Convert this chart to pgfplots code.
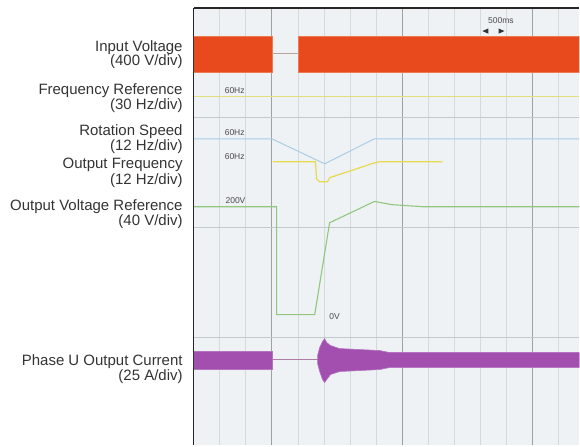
\documentclass[border=0pt]{standalone}
\usepackage{pgfplots}
\pgfplotsset{compat=1.18}
\usepackage{fontspec}
\setmainfont{Liberation Sans}

\definecolor{scopebg}{HTML}{EEF2F4}
\definecolor{gridmajor}{HTML}{9AA3A6}
\definecolor{gridminor}{HTML}{D3DADD}
\definecolor{gridhoriz}{HTML}{C3CACD}
\definecolor{vinput}{HTML}{E8491D}
\definecolor{vinputedge}{HTML}{EE7A52}
\definecolor{freqref}{HTML}{E2E07E}
\definecolor{speed}{HTML}{A9CDE6}
\definecolor{freqout}{HTML}{E6DA4E}
\definecolor{vref}{HTML}{93C67E}
\definecolor{iphase}{HTML}{A24FB0}
\definecolor{gapline}{HTML}{B9A29A}
\definecolor{labeltext}{HTML}{333333}
\definecolor{smalltext}{HTML}{4A4A4A}

\newcommand{\chlabel}{\fontsize{15}{15}\selectfont}
\newcommand{\tracelabel}{\fontsize{8.5}{9}\selectfont}

\begin{document}
\begin{tikzpicture}
% page frame
\path (0pt,0pt) rectangle (580pt,-446pt);

% channel names, right-aligned against the trace area
\begin{scope}[every node/.style={anchor=base east, inner sep=0pt, text=labeltext, font=\chlabel}]
\node at (183pt,-51.7pt) {Input Voltage};
\node at (183pt,-65.9pt) {(400 V/div)};
\node at (183pt,-94.3pt) {Frequency Reference};
\node at (183pt,-109.3pt) {(30 Hz/div)};
\node at (183pt,-135.7pt) {Rotation Speed};
\node at (183pt,-151pt) {(12 Hz/div)};
\node at (183pt,-169pt) {Output Frequency};
\node at (183pt,-184.3pt) {(12 Hz/div)};
\node at (183pt,-211pt) {Output Voltage Reference};
\node at (183pt,-225.7pt) {(40 V/div)};
\node at (183pt,-366pt) {Phase U Output Current};
\node at (183pt,-381pt) {(25 A/div)};
\end{scope}

\begin{axis}[
  set layers,
  at={(194pt,-8pt)}, anchor=north west,
  width=386pt, height=438pt, scale only axis,
  xmin=0, xmax=1479, ymin=0.018, ymax=4,
  axis x line*=top, axis y line*=left,
  axis line style={draw=black!85, line width=1.4pt},
  axis background/.style={fill=scopebg},
  xtick={300,800,1300},
  minor xtick={100,200,400,500,600,700,900,1000,1100,1200,1400},
  ytick={1,2,3},
  xticklabels={}, yticklabels={},
  tick label style={overlay},
  major tick length=0pt, minor tick length=0pt,
  xmajorgrids, xminorgrids, ymajorgrids,
  x grid style={draw=gridmajor, line width=1pt},
  minor x grid style={draw=gridminor, line width=1pt},
  y grid style={draw=gridhoriz, line width=0.9pt},
]

% input voltage: supply present, momentary loss, supply restored
\addplot[fill=vinput, draw=vinputedge, line width=0.8pt]
  coordinates {(0,3.745) (300,3.745) (300,3.418) (0,3.418)} --cycle;
\addplot[fill=vinput, draw=vinputedge, line width=0.8pt]
  coordinates {(402,3.745) (1479,3.745) (1479,3.418) (402,3.418)} --cycle;
\addplot[gapline, line width=0.8pt] coordinates {(300,3.591) (402,3.591)};

% frequency reference
\addplot[freqref, line width=0.9pt] coordinates {(0,3.191) (1479,3.191)};

% rotation speed
\addplot[speed, line width=1pt] coordinates {
  (0,2.809) (300,2.809) (502,2.582) (693,2.809) (1479,2.809)};

% output frequency
\addplot[freqout, line width=1.2pt] coordinates {
  (303,2.600) (467,2.600) (471,2.445) (483,2.418) (513,2.418)
  (521,2.455) (693,2.590) (713,2.600) (954,2.600)};

% output voltage reference
\addplot[vref, line width=1.1pt] coordinates {
  (0,2.191) (318,2.191) (318,1.209) (464,1.209) (521,2.045)
  (693,2.239) (760,2.210) (880,2.191) (1479,2.191)};

% phase U output current
\addplot[fill=iphase, draw=iphase!80!white, line width=0.6pt]
  coordinates {(0,0.873) (300,0.873) (300,0.709) (0,0.709)} --cycle;
\addplot[iphase!45!gapline, line width=0.8pt] coordinates {(300,0.800) (475,0.800)};
\addplot[fill=iphase, draw=iphase!80!white, line width=0.6pt] coordinates {
  (475,0.836) (483,0.909) (494,0.964) (502,0.991) (510,0.955) (525,0.927)
  (559,0.900) (636,0.891) (713,0.882) (751,0.864) (1479,0.864)
  (1479,0.727) (751,0.727) (713,0.709) (559,0.691) (525,0.664)
  (510,0.618) (502,0.591) (494,0.618) (483,0.691) (475,0.764)} --cycle;

% trace scale markers
\begin{scope}[every node/.style={inner sep=0pt, text=smalltext, font=\tracelabel}]
\node at (axis cs:157,3.245) {60Hz};
\node at (axis cs:157,2.864) {60Hz};
\node at (axis cs:157,2.645) {60Hz};
\node at (axis cs:160,2.245) {200V};
\node at (axis cs:540,1.190) {0V};
\node at (axis cs:1178,3.882) {500ms};
\end{scope}
\fill[black!80] (axis cs:1107,3.79) -- ++(6pt,2.6pt) -- ++(0pt,-5.2pt) -- cycle;
\fill[black!80] (axis cs:1192,3.79) -- ++(-6pt,2.6pt) -- ++(0pt,-5.2pt) -- cycle;

\end{axis}
\end{tikzpicture}
\end{document}
